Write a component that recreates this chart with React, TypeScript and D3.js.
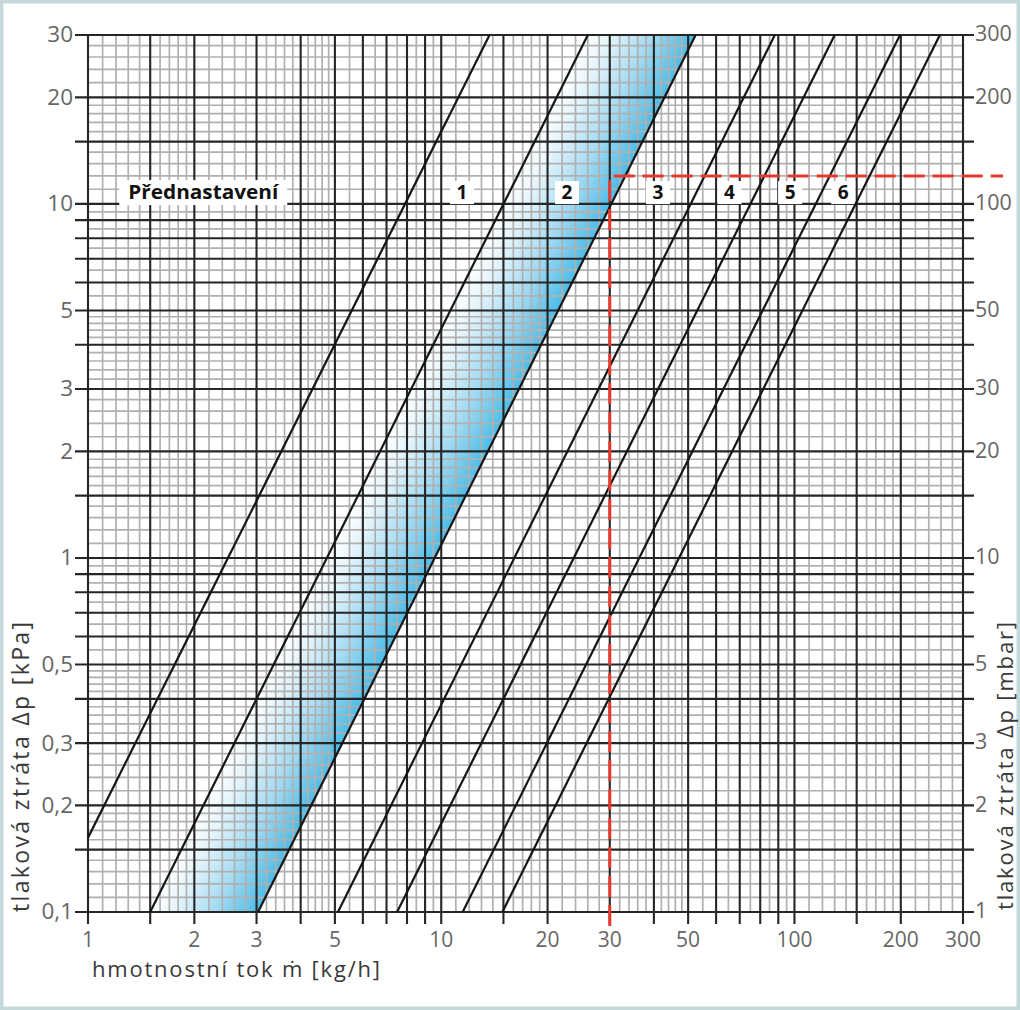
import * as d3 from 'd3';

// Axis domains (mass flow kg/h, pressure loss kPa)
const X_DOMAIN: [number, number] = [1, 300];
const Y_DOMAIN: [number, number] = [0.1, 30];

const X_TICKS = [1, 2, 3, 5, 10, 20, 30, 50, 100, 200, 300];
const X_TICK_LABELS = ['1', '2', '3', '5', '10', '20', '30', '50', '100', '200', '300'];
const Y_TICKS = [0.1, 0.2, 0.3, 0.5, 1, 2, 3, 5, 10, 20, 30];
const Y_TICK_LABELS = ['0,1', '0,2', '0,3', '0,5', '1', '2', '3', '5', '10', '20', '30'];
// right axis in mbar (1 kPa = 10 mbar)
const Y_RIGHT_LABELS = ['1', '2', '3', '5', '10', '20', '30', '50', '100', '200', '300'];

// log-paper grid
const DECADES_X = [1, 10, 100];
const DECADES_Y = [0.1, 1, 10];
const MAJOR_MANTISSAS = [1, 1.5, 2, 3, 4, 5, 6, 7, 8, 9];
const MINOR_MANTISSAS = [
  1.1, 1.2, 1.3, 1.4, 1.6, 1.7, 1.8, 1.9,
  2.2, 2.4, 2.6, 2.8, 3.2, 3.4, 3.6, 3.8, 4.2, 4.4, 4.6, 4.8,
  5.5, 6.5, 7.5, 8.5, 9.5,
];

// preset curves, read as end points [m, dp]
const CURVE_START_M = [1, 1.5, 3.03, 5.1, 7.5, 11.5, 14.9];
const CURVE_START_DP = [0.162, 0.1, 0.1, 0.1, 0.1, 0.1, 0.1];
const CURVE_END_M = [13.7, 26, 52.5, 88, 130, 199, 258];
const CURVE_END_DP = [30, 30, 30, 30, 30, 30, 30];

// shaded band between curve index 1 and 2
const BAND_LEFT = 1;
const BAND_RIGHT = 2;

// preset labels
const PRESET_LABELS = ['1', '2', '3', '4', '5', '6'];
const PRESET_LABEL_M = [11.45, 22.7, 41.1, 65.5, 97.2, 137.4];
const PRESET_LABEL_DP = 10.8;
const TITLE_LABEL = 'Přednastavení';
const TITLE_LABEL_M = 2.12;

// worked example (red dashed)
const EXAMPLE_M = 30;
const EXAMPLE_DP = 12;

const GRID_DARK = '#262626';
const GRID_LIGHT = '#b0b0b0';
const TICK_TEXT = '#666';
const FONT = '"Open Sans", "DejaVu Sans", sans-serif';

function gridValues(decades: number[], mantissas: number[], domain: [number, number]) {
  const out: number[] = [];
  for (const d of decades) {
    for (const m of mantissas) {
      const v = d * m;
      if (v >= domain[0] * 0.999 && v <= domain[1] * 1.001) out.push(v);
    }
  }
  return out;
}

export default function App() {
  const W = 1020;
  const H = 1010;
  const margin = { top: 35, right: 57, bottom: 98, left: 88 };

  const x = d3.scaleLog().domain(X_DOMAIN).range([margin.left, W - margin.right]);
  const y = d3.scaleLog().domain(Y_DOMAIN).range([H - margin.bottom, margin.top]);
  const [x0, x1] = x.range();
  const [y0, y1] = y.range(); // y0 bottom, y1 top

  const xMajor = gridValues(DECADES_X, MAJOR_MANTISSAS, X_DOMAIN);
  const xMinor = gridValues(DECADES_X, MINOR_MANTISSAS, X_DOMAIN);
  const yMajor = gridValues(DECADES_Y, MAJOR_MANTISSAS, Y_DOMAIN);
  const yMinor = gridValues(DECADES_Y, MINOR_MANTISSAS, Y_DOMAIN);

  const curves = CURVE_START_M.map((m, i) => [
    { m, dp: CURVE_START_DP[i] },
    { m: CURVE_END_M[i], dp: CURVE_END_DP[i] },
  ]);

  const line = d3
    .line<{ m: number; dp: number }>()
    .x((d) => x(d.m))
    .y((d) => y(d.dp));

  // band polygon
  const L = curves[BAND_LEFT];
  const R = curves[BAND_RIGHT];
  const bandPath = line([L[0], L[1], R[1], R[0]]) + 'Z';

  // gradient perpendicular to the band
  const ax = x(L[0].m), ay = y(L[0].dp);
  const dx = x(L[1].m) - ax, dy = y(L[1].dp) - ay;
  const len = Math.hypot(dx, dy);
  const nx = -dy / len, ny = dx / len;
  const bx = x(R[0].m), by = y(R[0].dp);
  const dist = (bx - ax) * nx + (by - ay) * ny;
  const gx2 = ax + nx * dist, gy2 = ay + ny * dist;

  const cx = x(EXAMPLE_M);
  const cy = y(EXAMPLE_DP);

  const labelFont = { fontFamily: FONT, fontWeight: 700, fontSize: 19, fill: '#111' };

  return (
    <div style={{ position: 'absolute', left: 0, top: 0 }}>
      <svg width={W} height={H} style={{ display: 'block', background: '#fff' }}>
        <defs>
          <linearGradient id="band" gradientUnits="userSpaceOnUse" x1={ax} y1={ay} x2={gx2} y2={gy2}>
            <stop offset="0" stopColor="#ffffff" />
            <stop offset="0.22" stopColor="#e4f4fb" />
            <stop offset="0.6" stopColor="#a3daf2" />
            <stop offset="1" stopColor="#4bbce8" />
          </linearGradient>
        </defs>

        {/* frame */}
        <rect x={1.5} y={1.5} width={W - 3} height={H - 3} fill="none" stroke="#c5d8da" strokeWidth={4} />

        {/* shaded band */}
        <path d={bandPath} fill="url(#band)" />

        {/* minor grid */}
        {xMinor.map((v) => (
          <line key={`xm-${v}`} x1={x(v)} x2={x(v)} y1={y0} y2={y1} stroke={GRID_LIGHT} strokeWidth={1.7} />
        ))}
        {yMinor.map((v) => (
          <line key={`ym-${v}`} x1={x0} x2={x1} y1={y(v)} y2={y(v)} stroke={GRID_LIGHT} strokeWidth={1.7} />
        ))}

        {/* major grid + ticks */}
        {xMajor.map((v) => (
          <line key={`xM-${v}`} x1={x(v)} x2={x(v)} y1={y0 + 12} y2={y1} stroke={GRID_DARK} strokeWidth={2.1} />
        ))}
        {yMajor.map((v) => (
          <line key={`yM-${v}`} x1={x0 - 13} x2={x1 + 11} y1={y(v)} y2={y(v)} stroke={GRID_DARK} strokeWidth={2.1} />
        ))}

        {/* label boxes */}
        <rect x={x(TITLE_LABEL_M) - 84} y={y(PRESET_LABEL_DP) - 12} width={168} height={25} fill="#fff" />
        <text
          x={x(TITLE_LABEL_M)}
          y={y(PRESET_LABEL_DP)}
          dy="0.36em"
          textAnchor="middle"
          textLength={150}
          lengthAdjust="spacingAndGlyphs"
          {...labelFont}
        >
          {TITLE_LABEL}
        </text>
        {PRESET_LABELS.map((lbl, i) => {
          const tx = x(PRESET_LABEL_M[i]);
          const ty = y(PRESET_LABEL_DP);
          return (
            <g key={`pl-${lbl}`}>
              <rect x={tx - 12} y={ty - 11} width={24} height={23} fill="#fff" />
              <text x={tx} y={ty} dy="0.36em" textAnchor="middle" {...labelFont}>
                {lbl}
              </text>
            </g>
          );
        })}

        {/* curves */}
        {curves.map((c, i) => (
          <path key={`c-${i}`} d={line(c) ?? undefined} fill="none" stroke="#151515" strokeWidth={2.2} />
        ))}

        {/* worked example */}
        <path
          d={`M${cx},${y0 + 14}V${cy}H${W - 17}`}
          fill="none"
          stroke="#e8382d"
          strokeWidth={3}
          strokeDasharray="21 8"
        />

        {/* tick labels */}
        {X_TICKS.map((v, i) => (
          <text key={`xl-${v}`} x={x(v)} y={y0 + 35} textAnchor="middle" fontFamily={FONT} fontSize={21} fill={TICK_TEXT}>
            {X_TICK_LABELS[i]}
          </text>
        ))}
        {Y_TICKS.map((v, i) => (
          <text key={`yl-${v}`} x={x0 - 15} y={y(v)} dy="0.33em" textAnchor="end" fontFamily={FONT} fontSize={22.5} fill={TICK_TEXT}>
            {Y_TICK_LABELS[i]}
          </text>
        ))}
        {Y_TICKS.map((v, i) => (
          <text key={`yr-${v}`} x={x1 + 12} y={y(v)} dy="0.29em" textAnchor="start" fontFamily={FONT} fontSize={21.5} fill={TICK_TEXT}>
            {Y_RIGHT_LABELS[i]}
          </text>
        ))}

        {/* axis titles */}
        <text x={x0 + 4} y={y0 + 65} textLength={288} lengthAdjust="spacing" fontFamily={FONT} fontSize={22} fill="#3a3a3a">
          hmotnostní tok ṁ [kg/h]
        </text>
        <text transform={`translate(29, ${y0}) rotate(-90)`} textLength={290} lengthAdjust="spacing" fontFamily={FONT} fontSize={23} fill="#3a3a3a">
          tlaková ztráta Δp [kPa]
        </text>
        <text transform={`translate(1013, ${y0 - 2}) rotate(-90)`} textLength={288} lengthAdjust="spacing" fontFamily={FONT} fontSize={22} fill="#3a3a3a">
          tlaková ztráta Δp [mbar]
        </text>
      </svg>
    </div>
  );
}
